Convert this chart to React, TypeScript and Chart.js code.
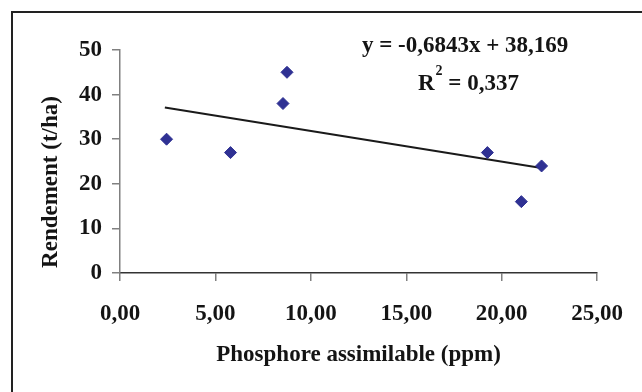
import React, { useEffect, useRef } from "react";
import { Chart, registerables } from "chart.js";

Chart.register(...registerables);

// Data
const phosphore = [2.44, 5.79, 8.54, 8.75, 19.25, 21.03, 22.09];
const rendement = [30, 27, 38, 45, 27, 16, 24];
// Trend line endpoints
const trendX = [2.35, 22.0];
const trendY = [37.1, 23.6];

const xTicks = [0, 5, 10, 15, 20, 25];
const yTicks = [0, 10, 20, 30, 40, 50];

const xTitle = "Phosphore assimilable (ppm)";
const yTitle = "Rendement (t/ha)";
const equationText = "y = -0,6843x + 38,169";
const r2Value = "0,337";

const FONT = '"Liberation Serif", "Times New Roman", serif';
const TEXT_COLOR = "#141414";

const decorPlugin = {
  id: "decor",
  beforeDraw(chart: any) {
    const ctx = chart.ctx;
    ctx.save();
    ctx.fillStyle = "#ffffff";
    ctx.fillRect(0, 0, chart.width, chart.height);
    ctx.strokeStyle = "#222222";
    ctx.lineWidth = 2;
    ctx.strokeRect(12, 12, chart.width + 20, chart.height + 20);
    ctx.restore();
  },
  afterDraw(chart: any) {
    const ctx = chart.ctx;
    const area = chart.chartArea;
    ctx.save();
    ctx.fillStyle = TEXT_COLOR;
    ctx.textBaseline = "alphabetic";
    // Equation
    ctx.font = `bold 23px ${FONT}`;
    ctx.textAlign = "left";
    ctx.fillText(equationText, 362, 52);
    // R²
    let x = 418;
    ctx.fillText("R", x, 90);
    x += ctx.measureText("R").width + 1;
    ctx.font = `bold 14px ${FONT}`;
    ctx.fillText("2", x, 75);
    x += ctx.measureText("2").width;
    ctx.font = `bold 23px ${FONT}`;
    ctx.fillText(" = " + r2Value, x, 90);
    // X title
    ctx.textAlign = "center";
    ctx.fillText(xTitle, (area.left + area.right) / 2, 361);
    // Y title
    ctx.translate(57, 182);
    ctx.rotate(-Math.PI / 2);
    ctx.fillText(yTitle, 0, 0);
    ctx.restore();
  },
};

export default function App() {
  const canvasRef = useRef<HTMLCanvasElement>(null);

  useEffect(() => {
    const canvas = canvasRef.current;
    if (!canvas) return;
    const chart = new Chart(canvas, {
      type: "scatter",
      data: {
        datasets: [
          {
            label: "Rendement",
            data: phosphore.map((p, i) => ({ x: p, y: rendement[i] })),
            pointStyle: "rectRot",
            pointRadius: 6,
            pointBorderWidth: 1,
            backgroundColor: "#2F3193",
            borderColor: "#2F3193",
            order: 1,
          },
          {
            label: "Tendance",
            type: "line",
            data: trendX.map((p, i) => ({ x: p, y: trendY[i] })),
            borderColor: "#1a1a1a",
            borderWidth: 2,
            pointRadius: 0,
            fill: false,
            order: 2,
          } as any,
        ],
      },
      options: {
        responsive: false,
        animation: false,
        devicePixelRatio: 1,
        layout: { padding: { left: 0, top: 50, right: 44, bottom: 0 } },
        plugins: {
          legend: { display: false },
          tooltip: { enabled: false },
          title: { display: false },
        },
        scales: {
          x: {
            type: "linear",
            min: 0,
            max: 25,
            afterFit: (s: any) => {
              s.height = 119;
            },
            afterBuildTicks: (s: any) => {
              s.ticks = xTicks.map((v) => ({ value: v }));
            },
            ticks: {
              font: { family: FONT, size: 23, weight: "bold" },
              color: TEXT_COLOR,
              padding: 19,
              maxRotation: 0,
              callback: (v: any) => Number(v).toFixed(2).replace(".", ","),
            },
            grid: {
              drawOnChartArea: false,
              drawTicks: true,
              tickLength: 8,
              color: "#808080",
              lineWidth: 1.5,
            },
            border: { display: true, color: "#333333", width: 1.5 },
          },
          y: {
            type: "linear",
            min: 0,
            max: 50,
            afterFit: (s: any) => {
              s.width = 120;
            },
            afterBuildTicks: (s: any) => {
              s.ticks = yTicks.map((v) => ({ value: v }));
            },
            ticks: {
              font: { family: FONT, size: 23, weight: "bold" },
              color: TEXT_COLOR,
              padding: 10,
              callback: (v: any) => String(v),
            },
            grid: {
              drawOnChartArea: false,
              drawTicks: true,
              tickLength: 8,
              color: "#808080",
              lineWidth: 1.5,
            },
            border: { display: true, color: "#808080", width: 1.5 },
          },
        },
      },
      plugins: [decorPlugin],
    });
    return () => chart.destroy();
  }, []);

  return (
    <div style={{ position: "fixed", left: 0, top: 0, width: 642, height: 392, background: "#fff" }}>
      <canvas ref={canvasRef} width={642} height={392} style={{ display: "block" }} />
    </div>
  );
}
